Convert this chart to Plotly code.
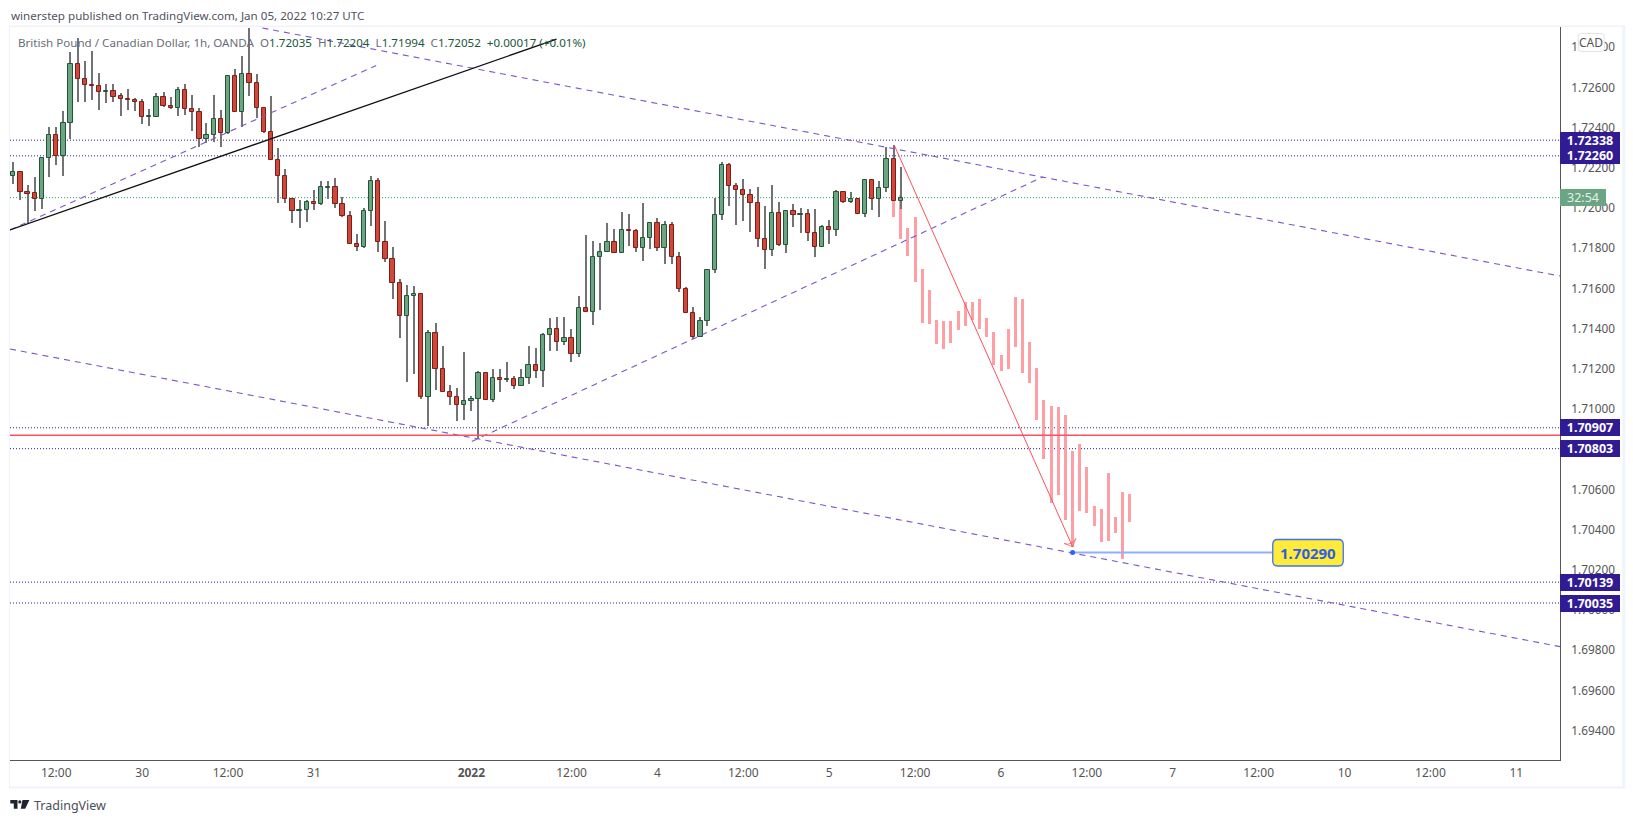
import plotly.graph_objects as go

# Hourly candles, GBP/CAD. Bar index 0 is the first bar shown.
opens = [1.72162,1.72178,1.72079,1.72074,1.72047,1.72248,1.72362,1.72261,1.72422,1.72716,
1.72641,1.72611,1.72606,1.72580,1.72581,1.72556,1.72542,1.72537,1.72527,1.72455,
1.72455,1.72552,1.72507,1.72500,1.72586,1.72492,1.72477,1.72343,1.72362,1.72442,
1.72372,1.72656,1.72477,1.72666,1.72621,1.72497,1.72377,1.72238,1.72158,1.72044,
1.71984,1.71989,1.72029,1.72019,1.72102,1.72104,1.72019,1.71960,1.71820,1.71805,
1.71984,1.72134,1.71830,1.71746,1.71626,1.71462,1.71562,1.71571,1.71062,1.71377,
1.71198,1.71084,1.71059,1.71018,1.71039,1.71049,1.71178,1.71044,1.71154,1.71144,
1.71149,1.71114,1.71154,1.71218,1.71187,1.71367,1.71397,1.71333,1.71353,1.71273,
1.71502,1.71482,1.71756,1.71780,1.71830,1.71775,1.71890,1.71885,1.71800,1.71850,
1.71925,1.71800,1.71915,1.71756,1.71596,1.71477,1.71361,1.71437,1.71691,1.71964,
1.72213,1.72109,1.72089,1.72064,1.72024,1.71845,1.71790,1.71974,1.71815,1.71984,
1.71964,1.71969,1.71875,1.71805,1.71905,1.71890,1.72079,1.72029,1.72044,1.71969,
1.72139,1.72044,1.72099,1.72243,1.72035]
highs = [1.72230,1.72178,1.72114,1.72154,1.72248,1.72402,1.72402,1.72482,1.72775,1.72845,
1.72731,1.72780,1.72671,1.72616,1.72616,1.72571,1.72591,1.72547,1.72542,1.72492,
1.72571,1.72576,1.72552,1.72601,1.72616,1.72561,1.72497,1.72422,1.72561,1.72487,
1.72661,1.72691,1.72755,1.72896,1.72666,1.72502,1.72556,1.72298,1.72193,1.72044,
1.72039,1.72039,1.72089,1.72134,1.72134,1.72149,1.72054,1.71984,1.71870,1.71999,
1.72158,1.72149,1.71935,1.71805,1.71646,1.71616,1.71611,1.71571,1.71392,1.71427,
1.71313,1.71119,1.71104,1.71283,1.71064,1.71188,1.71178,1.71198,1.71198,1.71233,
1.71164,1.71198,1.71313,1.71303,1.71377,1.71452,1.71457,1.71457,1.71397,1.71563,
1.71865,1.71835,1.71825,1.71925,1.71895,1.71979,1.71969,1.71895,1.72024,1.71930,
1.71950,1.71935,1.71930,1.71780,1.71606,1.71507,1.71457,1.71693,1.72049,1.72228,
1.72223,1.72124,1.72144,1.72094,1.72104,1.72009,1.72114,1.72029,1.71989,1.72019,
1.71999,1.71994,1.71994,1.71915,1.71940,1.72089,1.72084,1.72079,1.72044,1.72139,
1.72144,1.72134,1.72303,1.72313,1.72204]
lows = [1.72120,1.72041,1.71928,1.71988,1.71996,1.72157,1.72212,1.72162,1.72344,1.72528,
1.72528,1.72538,1.72488,1.72523,1.72528,1.72459,1.72488,1.72484,1.72419,1.72409,
1.72455,1.72502,1.72492,1.72459,1.72462,1.72386,1.72306,1.72323,1.72331,1.72306,
1.72369,1.72477,1.72402,1.72558,1.72447,1.72372,1.72238,1.72027,1.72023,1.71928,
1.71903,1.71933,1.71993,1.72013,1.72047,1.71998,1.71958,1.71820,1.71789,1.71799,
1.71913,1.71784,1.71734,1.71550,1.71356,1.71137,1.71177,1.71052,1.70918,1.71097,
1.71084,1.71018,1.70943,1.70948,1.70988,1.70853,1.71044,1.71033,1.71087,1.71134,
1.71100,1.71114,1.71127,1.71157,1.71112,1.71291,1.71291,1.71321,1.71232,1.71261,
1.71482,1.71419,1.71494,1.71780,1.71775,1.71775,1.71809,1.71784,1.71739,1.71794,
1.71789,1.71722,1.71722,1.71585,1.71477,1.71348,1.71361,1.71411,1.71679,1.71943,
1.72008,1.71916,1.71938,1.71883,1.71804,1.71699,1.71764,1.71809,1.71779,1.71908,
1.71875,1.71838,1.71759,1.71804,1.71819,1.71863,1.72024,1.72023,1.71969,1.71955,
1.71993,1.71955,1.72082,1.72033,1.71994]
closes = [1.72178,1.72079,1.72072,1.72047,1.72248,1.72362,1.72261,1.72422,1.72716,1.72641,
1.72611,1.72605,1.72580,1.72583,1.72555,1.72542,1.72537,1.72527,1.72455,1.72457,
1.72552,1.72507,1.72500,1.72586,1.72492,1.72477,1.72343,1.72362,1.72442,1.72372,
1.72656,1.72477,1.72666,1.72621,1.72497,1.72377,1.72238,1.72158,1.72044,1.71984,
1.71989,1.72029,1.72019,1.72104,1.72104,1.72019,1.71960,1.71820,1.71805,1.71984,
1.72134,1.71830,1.71746,1.71626,1.71462,1.71562,1.71571,1.71062,1.71377,1.71198,
1.71084,1.71059,1.71018,1.71039,1.71049,1.71178,1.71044,1.71154,1.71144,1.71149,
1.71114,1.71154,1.71218,1.71187,1.71367,1.71397,1.71333,1.71353,1.71273,1.71502,
1.71482,1.71756,1.71780,1.71830,1.71775,1.71890,1.71885,1.71800,1.71850,1.71925,
1.71800,1.71915,1.71756,1.71596,1.71477,1.71361,1.71437,1.71691,1.71964,1.72213,
1.72109,1.72089,1.72064,1.72024,1.71845,1.71790,1.71974,1.71815,1.71984,1.71964,
1.71969,1.71875,1.71805,1.71905,1.71890,1.72079,1.72029,1.72044,1.71969,1.72139,
1.72044,1.72099,1.72243,1.72035,1.72052]

# Pale projected bars (copied price pattern), starting at bar 123.
ghost_start = 123
ghost_highs = [1.72243,1.72064,1.71900,1.71955,1.71696,1.71591,1.71442,1.71437,1.71437,1.71487,
1.71532,1.71532,1.71547,1.71452,1.71382,1.71268,1.71397,1.71557,1.71547,1.71333,
1.71203,1.71044,1.71014,1.71009,1.70969,1.70790,1.70825,1.70711,1.70517,1.70502,
1.70681,1.70464,1.70588,1.70578]
ghost_lows = [1.71958,1.71848,1.71764,1.71634,1.71426,1.71421,1.71326,1.71301,1.71331,1.71391,
1.71411,1.71445,1.71396,1.71361,1.71217,1.71187,1.71197,1.71311,1.71182,1.71132,
1.70948,1.70754,1.70535,1.70575,1.70450,1.70316,1.70495,1.70485,1.70416,1.70341,
1.70346,1.70384,1.70255,1.70439]

level_prices = [1.72338,1.72260,1.70907,1.70803,1.70139,1.70035]
last_price = 1.72052
red_level = 1.70870
target_price = 1.70290
target_line_price = 1.70286
target_bar = 148
target_end_bar = 176

# Drawn trend lines: bar index and price of both ends.
dashed_lines = [
    ([-0.46,50.7],[1.71891,1.72709]),
    ([34.8,216.1],[1.72896,1.71662]),
    ([-0.46,216.1],[1.71299,1.69818]),
    ([64.06,143.9],[1.70839,1.72156]),
]
black_line = ([-0.46,75.9],[1.71891,1.72841])
arrow_line = ([123.1,148.0],[1.72312,1.70315])

x_tick_bars = [6,18,30,42,64,78,90,102,114,126,138,150,162,174,186,198,210]
x_tick_text = ["12:00","30","12:00","31","<b>2022</b>","12:00","4","12:00","5","12:00","6","12:00","7","12:00","10","12:00","11"]
y_ticks = [1.694,1.696,1.698,1.700,1.702,1.704,1.706,1.708,1.710,1.712,1.714,1.716,1.718,1.720,1.722,1.724,1.726,1.728]

FONT = "Noto Sans"
W, H = 1633, 823
L, R, T, B = 10.0, 1559.7, 27.0, 760.0
def px(x): return (x - L) / (R - L)
def py(y): return (B - y) / (B - T)

def rrect(x0, y0, x1, y1, r):
    a, b, c, d = px(x0), px(x1), py(y0), py(y1)
    rx, ry = r / (R - L), r / (B - T)
    return (f"M {a+rx} {c} L {b-rx} {c} Q {b} {c} {b} {c-ry} L {b} {d+ry} Q {b} {d} {b-rx} {d} "
            f"L {a+rx} {d} Q {a} {d} {a} {d+ry} L {a} {c-ry} Q {a} {c} {a+rx} {c} Z")

bars = list(range(len(opens)))
up = [c >= o for o, c in zip(opens, closes)]
fig = go.Figure()

fig.add_trace(go.Bar(
    x=[ghost_start + k for k in range(len(ghost_highs))],
    y=[h - l for h, l in zip(ghost_highs, ghost_lows)],
    base=ghost_lows, width=0.42, marker=dict(color="#fe9fa6", line=dict(width=0)),
))
fig.add_trace(go.Bar(
    x=bars, y=[h - l for h, l in zip(highs, lows)], base=lows, width=0.16,
    marker=dict(color="#737375", line=dict(width=0)),
))
fig.add_trace(go.Bar(
    x=bars, y=[abs(c - o) for o, c in zip(opens, closes)],
    base=[min(o, c) for o, c in zip(opens, closes)], width=0.6,
    marker=dict(color=["#6ba583" if u else "#d1473a" for u in up],
                line=dict(width=1, color=["#225437" if u else "#7a1f18" for u in up])),
))

for xs, ys in dashed_lines:
    fig.add_trace(go.Scatter(x=xs, y=ys, mode="lines",
                             line=dict(color="#7e57c2", width=1.1, dash="6px,5px")))
fig.add_trace(go.Scatter(x=black_line[0], y=black_line[1], mode="lines",
                         line=dict(color="#111111", width=1.3)))
fig.add_trace(go.Scatter(x=arrow_line[0], y=arrow_line[1], mode="lines+markers",
                         line=dict(color="#f7525f", width=1),
                         marker=dict(symbol="arrow-wide-open", size=[0, 9], angleref="previous",
                                     color="#f7525f", line=dict(width=1, color="#f7525f"))))
fig.add_trace(go.Scatter(x=[target_bar, target_end_bar], y=[target_line_price, target_line_price], mode="lines",
                         line=dict(color="#8fb0fb", width=2)))
fig.add_trace(go.Scatter(x=[target_bar], y=[target_line_price], mode="markers",
                         marker=dict(color="#2962ff", size=5)))

shapes = []
for lv in level_prices:
    shapes.append(dict(type="line", xref="paper", yref="y", x0=0, x1=1, y0=lv, y1=lv, layer="below",
                       line=dict(color="#311b92", width=1, dash="1px,2px")))
shapes.append(dict(type="line", xref="paper", yref="y", x0=0, x1=1, y0=last_price, y1=last_price, layer="below",
                   line=dict(color="#2f9e63", width=1, dash="1px,2px")))
shapes.append(dict(type="line", xref="paper", yref="y", x0=0, x1=1, y0=red_level, y1=red_level,
                   line=dict(color="#f7525f", width=1.4)))

# outer light frame
frame = "#f0f3fa"
shapes += [
    dict(type="rect", xref="paper", yref="paper", x0=px(9), x1=px(1625), y0=py(25.5), y1=py(27), fillcolor=frame, line=dict(width=0)),
    dict(type="rect", xref="paper", yref="paper", x0=px(9), x1=px(1625), y0=py(786.5), y1=py(788.5), fillcolor=frame, line=dict(width=0)),
    dict(type="rect", xref="paper", yref="paper", x0=px(9), x1=px(10), y0=py(25.5), y1=py(788.5), fillcolor=frame, line=dict(width=0)),
    dict(type="rect", xref="paper", yref="paper", x0=px(1622), x1=px(1625), y0=py(25.5), y1=py(788.5), fillcolor=frame, line=dict(width=0)),
]
# price tag for the target
shapes.append(dict(type="path", xref="paper", yref="paper", path=rrect(1272.5, 539.5, 1343, 566, 5),
                   fillcolor="#ffeb3b", line=dict(color="#3f73f0", width=1.3)))
# CAD button
shapes.append(dict(type="path", xref="paper", yref="paper", path=rrect(1578, 33.5, 1604, 51.5, 3),
                   fillcolor="#ffffff", line=dict(color="#e0e3eb", width=1)))
# TradingView logo
shapes.append(dict(type="path", xref="paper", yref="paper", fillcolor="#1e222d", line=dict(width=0),
                   path=f"M {px(10.3)} {py(800)} L {px(17.5)} {py(800)} L {px(17.5)} {py(808.8)} L {px(13.8)} {py(808.8)} "
                        f"L {px(13.8)} {py(803.6)} L {px(10.3)} {py(803.6)} Z"))
shapes.append(dict(type="circle", xref="paper", yref="paper", fillcolor="#1e222d", line=dict(width=0),
                   x0=px(18.2), x1=px(21.4), y0=py(803.6), y1=py(800.2)))
shapes.append(dict(type="path", xref="paper", yref="paper", fillcolor="#1e222d", line=dict(width=0),
                   path=f"M {px(22.5)} {py(800)} L {px(29.4)} {py(800)} L {px(25.2)} {py(808.8)} L {px(20.8)} {py(808.8)} Z"))

ann = []
def text(x, y, s, size=13, color="#555555", anchor="left", **kw):
    ann.append(dict(xref="paper", yref="paper", x=px(x), y=py(y), text=s, showarrow=False,
                    xanchor=anchor, yanchor="middle", font=dict(family=FONT, size=size, color=color), **kw))

text(9, 15, "winerstep published on TradingView.com, Jan 05, 2022 10:27 UTC", size=11.6, color="#50535e")
g = "#22563a"
text(16, 42, "British Pound / Canadian Dollar, 1h, OANDA&nbsp;&nbsp;"
     f"<span style='color:#6a6d78'>O</span><span style='color:{g}'>1.72035</span>&nbsp;&nbsp;"
     f"<span style='color:#6a6d78'>H</span><span style='color:{g}'>1.72204</span>&nbsp;&nbsp;"
     f"<span style='color:#6a6d78'>L</span><span style='color:{g}'>1.71994</span>&nbsp;&nbsp;"
     f"<span style='color:#6a6d78'>C</span><span style='color:{g}'>1.72052</span>&nbsp;&nbsp;"
     f"<span style='color:{g}'>+0.00017 (+0.01%)</span>", size=11.6, color="#6a6d78")
text(32, 805.5, "TradingView", size=12.5, color="#4a4e59")

# right-hand price tags
for lv in level_prices:
    ann.append(dict(xref="paper", yref="y", x=px(1559.5), y=lv, text=f"<b>{lv:.5f}</b>", showarrow=False,
                    xanchor="left", yanchor="middle", width=59, height=16, align="center", borderpad=0.5, borderwidth=0,
                    bgcolor="#311b92", font=dict(family=FONT, size=12.5, color="#ffffff")))
ann.append(dict(xref="paper", yref="y", x=px(1559.5), y=last_price, text="32:54", showarrow=False,
                xanchor="left", yanchor="middle", width=45, height=16, align="center", borderpad=0.5, borderwidth=0,
                bgcolor="#6ba583", font=dict(family=FONT, size=12.5, color="#e4f0e8")))
ann.append(dict(xref="paper", yref="y", x=px(1307.7), y=target_line_price, text=f"<b>{target_price:.5f}</b>", showarrow=False,
                xanchor="center", yanchor="middle", font=dict(family=FONT, size=15, color="#2f5fe0")))
ann.append(dict(xref="paper", yref="paper", x=px(1591), y=py(42.5), text="CAD", showarrow=False,
                xanchor="center", yanchor="middle", font=dict(family=FONT, size=12, color="#555555")))

fig.update_layout(
    width=W, height=H, autosize=False,
    margin=dict(l=L, r=W - R, t=T, b=H - B, pad=0),
    paper_bgcolor="#ffffff", plot_bgcolor="#ffffff",
    barmode="overlay", bargap=0, showlegend=False,
    shapes=shapes, annotations=ann,
    xaxis=dict(range=[-0.46, 216.1], tickmode="array", tickvals=x_tick_bars, ticktext=x_tick_text,
               showgrid=False, zeroline=False, showline=True, linecolor="#555555", linewidth=1,
               ticks="", ticklabelstandoff=2, tickfont=dict(family=FONT, size=12, color="#555555")),
    yaxis=dict(range=[1.69254, 1.72901], side="right", tickmode="array", tickvals=y_ticks,
               tickformat=".5f", showgrid=False, zeroline=False, showline=True, linecolor="#555555", linewidth=1,
               ticks="", ticklabelstandoff=8, tickfont=dict(family=FONT, size=11.8, color="#555555")),
)

fig.write_html("out.html", config=dict(displayModeBar=False),
               post_script="document.body.style.margin='0';document.body.style.background='#ffffff';")
